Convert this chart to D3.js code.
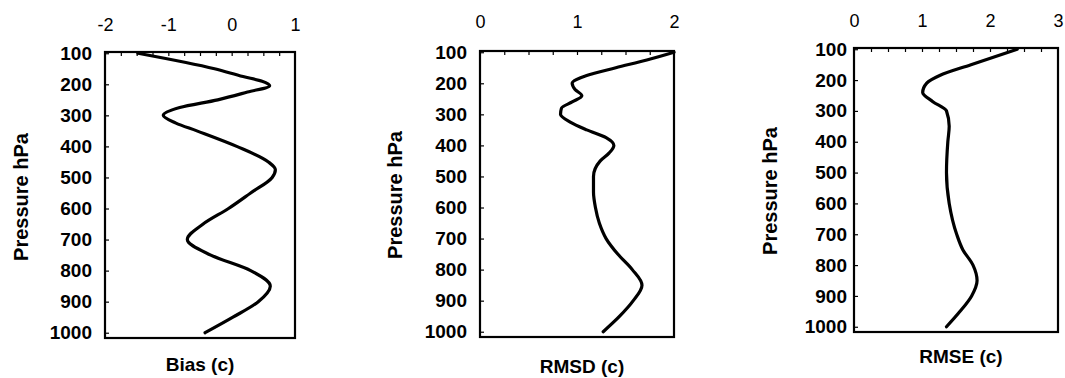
<!DOCTYPE html>
<html>
<head>
<meta charset="utf-8">
<script src="https://cdn.jsdelivr.net/npm/d3@7"></script>
<style>
  body { margin: 0; background: #fff; }
  svg { display: block; font-family: "Liberation Sans", Arial, sans-serif; }
</style>
</head>
<body>
<svg id="chart" width="1065" height="378"></svg>
<script>
// pressure levels shown on the left axis
const pressureTicks = [100, 200, 300, 400, 500, 600, 700, 800, 900, 1000];

// Bias (c)
const biasPressure = [100, 150, 175, 190, 205, 225, 250, 275, 300, 325, 350, 400, 450, 475, 500, 550, 600, 650, 700, 750, 800, 850, 900, 950, 1000];
const biasValues   = [-1.48, -0.27, 0.18, 0.48, 0.60, 0.25, -0.22, -0.82, -1.08, -0.88, -0.55, 0.08, 0.58, 0.69, 0.64, 0.30, -0.05, -0.45, -0.70, -0.33, 0.30, 0.61, 0.42, 0.02, -0.42];
const biasTicks = [-2, -1, 0, 1];

// RMSD (c)
const rmsdPressure = [100, 125, 150, 175, 200, 220, 240, 260, 280, 300, 325, 350, 375, 400, 425, 450, 500, 550, 600, 650, 700, 750, 800, 850, 900, 950, 1000];
const rmsdValues   = [2.0, 1.72, 1.40, 1.10, 0.95, 0.98, 1.05, 0.95, 0.84, 0.83, 0.93, 1.10, 1.30, 1.38, 1.33, 1.24, 1.17, 1.17, 1.19, 1.23, 1.30, 1.42, 1.57, 1.67, 1.58, 1.44, 1.27];
const rmsdTicks = [0, 1, 2];

// RMSE (c)
const rmsePressure = [100, 150, 185, 210, 240, 270, 300, 350, 400, 500, 600, 700, 750, 800, 850, 900, 950, 1000];
const rmseValues   = [2.40, 1.72, 1.26, 1.07, 1.01, 1.16, 1.36, 1.40, 1.38, 1.36, 1.40, 1.51, 1.60, 1.75, 1.81, 1.73, 1.56, 1.36];
const rmseTicks = [0, 1, 2, 3];

const svg = d3.select('#chart');
const plain = d => String(d);   // keep "-2" with a hyphen and "1000" without comma

function drawPanel(cfg) {
  const x = d3.scaleLinear().domain(cfg.xDomain).range([cfg.left, cfg.right]);
  const y = d3.scaleLinear().domain([96, 1017]).range([cfg.top, cfg.bottom]);
  const g = svg.append('g');

  // minor ticks on top edge (every 0.25), pointing inward
  const minor = d3.range(cfg.xDomain[0] + 0.25, cfg.xDomain[1] - 0.01, 0.25);
  g.append('g')
    .attr('transform', `translate(0,${cfg.top})`)
    .call(d3.axisTop(x).tickValues(minor).tickSize(-4).tickFormat(''))
    .call(a => a.select('.domain').remove())
    .selectAll('line').attr('stroke', '#000').attr('stroke-width', 1.2);

  // top labels
  g.append('g')
    .attr('transform', `translate(0,${cfg.labelY})`)
    .call(d3.axisTop(x).tickValues(cfg.ticks).tickSize(0).tickPadding(0).tickFormat(plain))
    .call(a => a.select('.domain').remove())
    .selectAll('text')
    .attr('fill', '#000')
    .style('font-size', '18px')
    .style('font-family', '"Liberation Sans", Arial, sans-serif');

  // left axis
  g.append('g')
    .attr('transform', `translate(${cfg.left},0)`)
    .call(d3.axisLeft(y).tickValues(pressureTicks).tickSize(-4).tickPadding(cfg.pad).tickFormat(plain))
    .call(a => a.select('.domain').remove())
    .call(a => a.selectAll('line').attr('stroke', '#000').attr('stroke-width', 1.2))
    .selectAll('text')
    .attr('fill', '#000')
    .style('font-size', '19px')
    .style('font-weight', 'bold')
    .style('font-family', '"Liberation Sans", Arial, sans-serif');

  // frame
  g.append('rect')
    .attr('x', cfg.left).attr('y', cfg.top)
    .attr('width', cfg.right - cfg.left).attr('height', cfg.bottom - cfg.top)
    .attr('fill', 'none').attr('stroke', '#000').attr('stroke-width', 2.2);

  // profile
  const line = d3.line()
    .x(d => x(d[1]))
    .y(d => y(d[0]))
    .curve(d3.curveMonotoneY);
  g.append('path')
    .datum(d3.zip(cfg.pressure, cfg.values))
    .attr('d', line)
    .attr('fill', 'none')
    .attr('stroke', '#000')
    .attr('stroke-width', 3.2)
    .attr('stroke-linecap', 'round')
    .attr('stroke-linejoin', 'round');

  // titles
  g.append('text')
    .attr('x', cfg.xTitleX).attr('y', cfg.xTitleY)
    .attr('text-anchor', 'middle')
    .style('font-size', '19px').style('font-weight', 'bold')
    .text(cfg.xTitle);

  g.append('text')
    .attr('transform', `translate(${cfg.yTitleX},${cfg.yTitleY}) rotate(-90)`)
    .attr('text-anchor', 'middle')
    .style('font-size', '20px').style('font-weight', 'bold')
    .text('Pressure hPa');
}

drawPanel({
  xDomain: [-2, 1], ticks: biasTicks, pressure: biasPressure, values: biasValues,
  left: 105, right: 295, top: 52, bottom: 338, labelY: 31, pad: 13,
  xTitle: 'Bias (c)', xTitleX: 200, xTitleY: 371, yTitleX: 28, yTitleY: 197
});

drawPanel({
  xDomain: [0, 2], ticks: rmsdTicks, pressure: rmsdPressure, values: rmsdValues,
  left: 480, right: 674, top: 51, bottom: 337, labelY: 28, pad: 13,
  xTitle: 'RMSD (c)', xTitleX: 582, xTitleY: 373, yTitleX: 402, yTitleY: 195
});

drawPanel({
  xDomain: [0, 3], ticks: rmseTicks, pressure: rmsePressure, values: rmseValues,
  left: 854, right: 1058, top: 48, bottom: 332, labelY: 27, pad: 7,
  xTitle: 'RMSE (c)', xTitleX: 961, xTitleY: 363, yTitleX: 777, yTitleY: 191
});
</script>
</body>
</html>
